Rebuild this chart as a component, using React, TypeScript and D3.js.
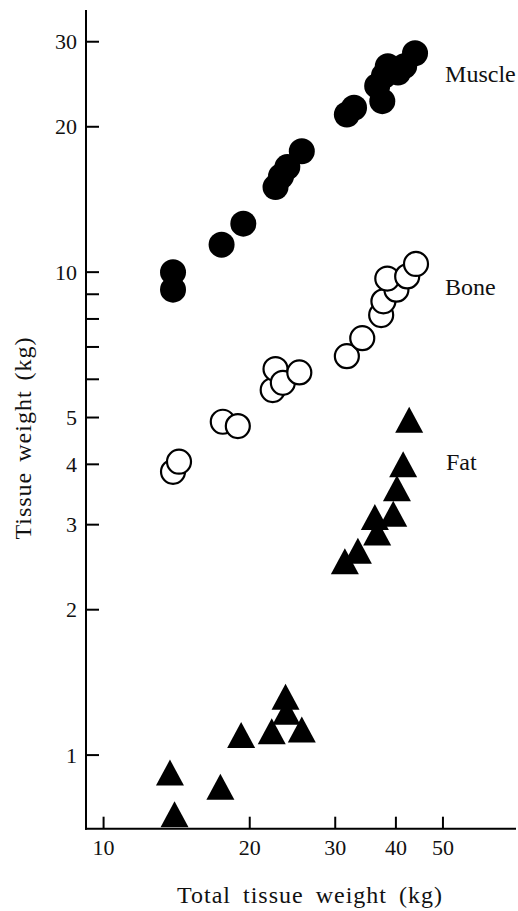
import React from "react";
import * as d3 from "d3";

// values (kg)
const muscleX = [13.9, 13.9, 17.5, 19.4, 22.6, 23.2, 23.9, 25.6, 31.7, 32.8, 37.5, 36.6, 37.8, 38.5, 40.4, 41.6, 43.8];
const muscleY = [10.0, 9.2, 11.4, 12.6, 15.0, 15.8, 16.5, 17.8, 21.2, 21.9, 22.6, 24.3, 25.5, 26.7, 25.9, 26.7, 28.4];

const boneX = [13.9, 14.3, 17.6, 18.9, 22.3, 22.6, 23.4, 25.3, 31.7, 34.1, 37.3, 37.7, 40.1, 38.4, 42.2, 44.0];
const boneY = [3.86, 4.05, 4.9, 4.8, 5.7, 6.3, 5.9, 6.2, 6.7, 7.3, 8.15, 8.7, 9.2, 9.7, 9.8, 10.4];

const fatX = [13.7, 14.0, 17.4, 19.2, 22.2, 23.7, 23.8, 25.6, 31.4, 33.4, 36.6, 36.2, 39.5, 40.2, 41.4, 42.6];
const fatY = [0.92, 0.754, 0.86, 1.1, 1.12, 1.32, 1.23, 1.13, 2.52, 2.65, 2.89, 3.11, 3.16, 3.57, 4.0, 4.95];

const xTicks = [10, 20, 30, 40, 50];
const yTicks = [1, 2, 3, 4, 5, 6, 7, 8, 9, 10, 20, 30];
const yLabels = [1, 2, 3, 4, 5, 10, 20, 30];

const seriesLabels = [
  { text: "Muscle", x: 50.5, y: 25.8 },
  { text: "Bone", x: 50.5, y: 9.33 },
  { text: "Fat", x: 50.7, y: 4.06 },
];

const W = 518;
const H = 911;
const font = "Liberation Serif, DejaVu Serif, serif";

export default function App() {
  const x = d3.scaleLog().domain([9.2, 70.7]).range([86, 516]);
  const y = d3.scaleLog().domain([0.704, 34.9]).range([828.7, 10]);
  const x0 = 86;
  const y0 = 828.7;
  const tri = "M0,-13L14,13L-14,13Z";

  return (
    <svg
      width={W}
      height={H}
      style={{ position: "absolute", left: 0, top: 0, background: "#fff", fontFamily: font }}
    >
      {/* axes */}
      <line x1={x0} x2={x0} y1={10} y2={y0 + 1} stroke="#000" strokeWidth={2} />
      <line x1={x0 - 1} x2={516} y1={y0} y2={y0} stroke="#000" strokeWidth={2} />

      {yTicks.map((t) => (
        <line key={"yt" + t} x1={x0} x2={x0 + 13} y1={y(t)} y2={y(t)} stroke="#000" strokeWidth={2} />
      ))}
      {yLabels.map((t) => (
        <text key={"yl" + t} x={77} y={y(t)} dy="0.35em" textAnchor="end" fontSize={22} fill="#111">
          {t}
        </text>
      ))}

      {xTicks.map((t) => (
        <g key={"xt" + t}>
          <line x1={x(t)} x2={x(t)} y1={y0} y2={y0 - 12} stroke="#000" strokeWidth={2} />
          <text x={x(t)} y={855} textAnchor="middle" fontSize={22} fill="#111">
            {t}
          </text>
        </g>
      ))}

      {/* axis titles */}
      <text x={310} y={903} textAnchor="middle" fontSize={24} letterSpacing={1} wordSpacing={5} fill="#111">
        Total tissue weight (kg)
      </text>
      <text
        transform={`translate(31,438) rotate(-90)`}
        textAnchor="middle"
        fontSize={24}
        letterSpacing={1}
        wordSpacing={3}
        fill="#111"
      >
        Tissue weight (kg)
      </text>

      {/* muscle: filled circles */}
      {muscleX.map((v, i) => (
        <circle key={"m" + i} cx={x(v)} cy={y(muscleY[i])} r={13} fill="#000" />
      ))}

      {/* bone: open circles */}
      {boneX.map((v, i) => (
        <circle key={"b" + i} cx={x(v)} cy={y(boneY[i])} r={12} fill="#fff" stroke="#000" strokeWidth={2.2} />
      ))}

      {/* fat: filled triangles */}
      {fatX.map((v, i) => (
        <path key={"f" + i} d={tri} transform={`translate(${x(v)},${y(fatY[i])})`} fill="#000" />
      ))}

      {seriesLabels.map((l) => (
        <text key={l.text} x={x(l.x)} y={y(l.y)} dy="0.35em" fontSize={24} fill="#111">
          {l.text}
        </text>
      ))}
    </svg>
  );
}
